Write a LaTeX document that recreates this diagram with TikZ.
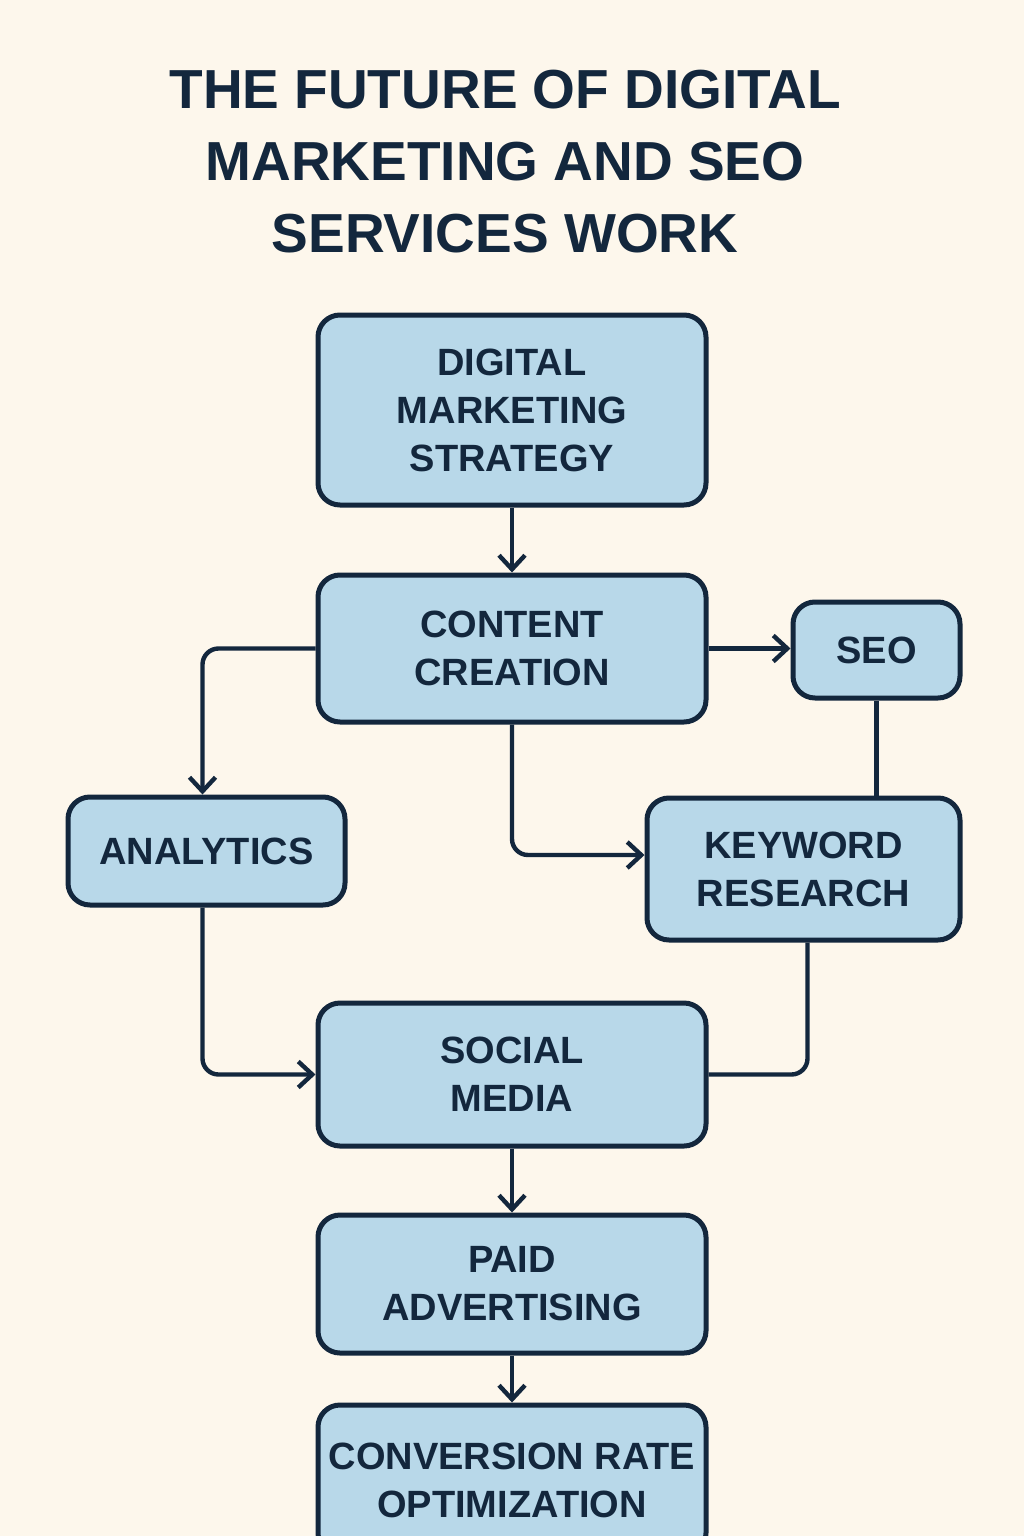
\documentclass[tikz,border=0pt]{standalone}
\usepackage{fontspec}
\setmainfont{Liberation Sans}
\usetikzlibrary{arrows.meta}
\definecolor{navy}{HTML}{13273D}
\definecolor{boxblue}{HTML}{B8D8E9}
\definecolor{cream}{HTML}{FDF7EC}

\tikzset{
  stepbox/.style={draw=navy, fill=boxblue, line width=2.5pt, rounded corners=11pt,
    align=center, text=navy, inner sep=0pt,
    font=\fontsize{19}{24}\selectfont\bfseries},
  link/.style={draw=navy, line width=2.2pt, rounded corners=8pt},
  >={Straight Barb[length=7pt,width=13pt]}
}

\begin{document}
\begin{tikzpicture}[x=0.5pt,y=-0.5pt]
    \fill[cream] (0,0) rectangle (1024,1536);
    \useasboundingbox (0,0) rectangle (1024,1536);

    \node[text=navy, align=center, font=\fontsize{27.5}{36}\selectfont\bfseries] (title) at (505,162)
        {THE FUTURE OF DIGITAL\\MARKETING AND SEO\\SERVICES WORK};

    \node[stepbox, minimum width=194pt, minimum height=95pt] (dms) at (512,410) {DIGITAL\\MARKETING\\STRATEGY};
    \node[stepbox, minimum width=194pt, minimum height=73.5pt] (cc) at (512,648.5) {CONTENT\\CREATION};
    \node[stepbox, minimum width=83.5pt, minimum height=48pt] (seo) at (876.5,650) {SEO};
    \node[stepbox, minimum width=138.5pt, minimum height=54pt] (an) at (206.5,851) {ANALYTICS};
    \node[stepbox, minimum width=156.5pt, minimum height=71pt] (kr) at (803.5,869) {KEYWORD\\RESEARCH};
    \node[stepbox, minimum width=194pt, minimum height=71.5pt] (sm) at (512,1074.5) {SOCIAL\\MEDIA};
    \node[stepbox, minimum width=194pt, minimum height=69pt] (pa) at (512,1284) {PAID\\ADVERTISING};
    \node[stepbox, minimum width=194pt, minimum height=75pt] (cro) at (512,1480) {CONVERSION RATE\\OPTIMIZATION};

    \draw[link,->] (dms) -- (cc);
    \draw[link,->] (cc.east) -- (seo.west |- cc.east);
    \draw[link] (seo.south) -- (seo.south |- kr.north);
    \draw[link,->] (cc.south) |- ([yshift=7pt]kr.west);
    \draw[link,->] (cc.west) -| ([xshift=-2pt]an.north);
    \draw[link,->] ([xshift=-2pt]an.south) |- (sm.west);
    \draw[link] ([xshift=2pt]kr.south) |- (sm.east);
    \draw[link,->] (sm) -- (pa);
    \draw[link,->] (pa) -- (cro);
\end{tikzpicture}
\end{document}
